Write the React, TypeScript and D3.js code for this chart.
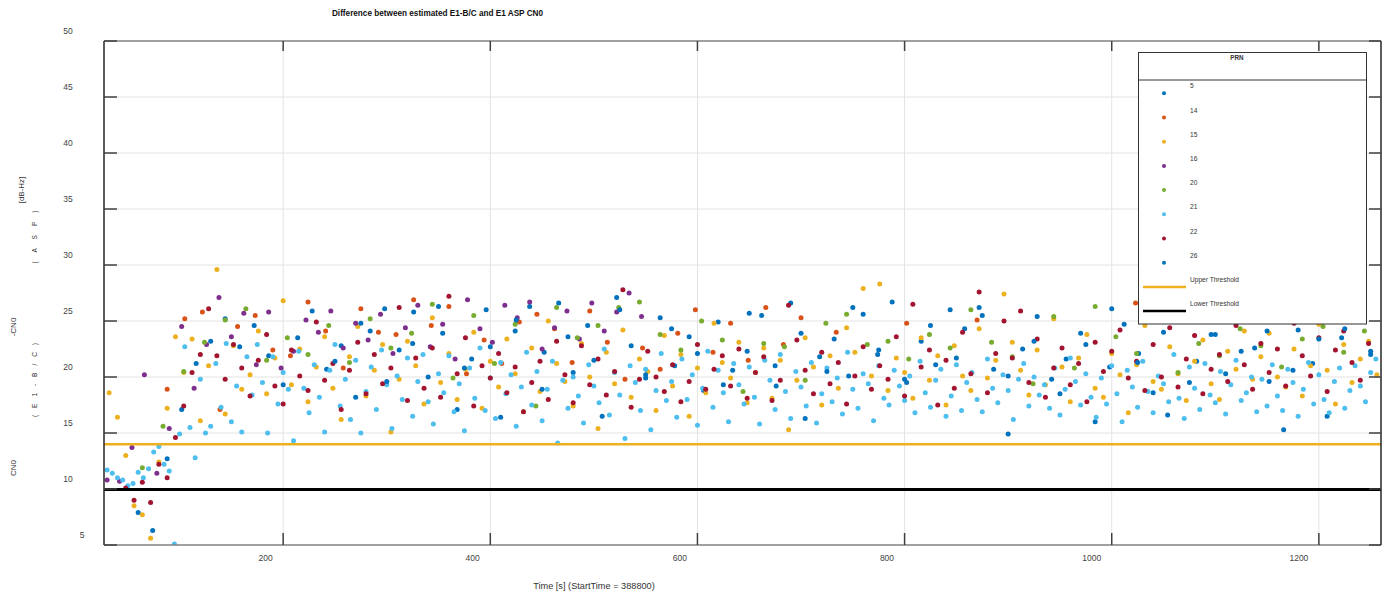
import React, { useEffect, useRef } from 'react'
import * as d3 from 'd3'

const WIDTH = 1385
const HEIGHT = 601
const FONT = "'Liberation Sans', Arial, sans-serif"

const X_TICKS = [200, 400, 600, 800, 1000, 1200]
const Y_TICKS = [5, 10, 15, 20, 25, 30, 35, 40, 45, 50]
const TIME_RANGE = [27, 1260]
const CN0_RANGE = [5, 50]

const UPPER_THRESHOLD = 14.0
const LOWER_THRESHOLD = 9.95

const PRN_LABELS = ['5', '14', '15', '16', '20', '21', '22', '26']
const PRN_COLORS = ['#0072BD', '#D95319', '#EDB120', '#7E2F8E', '#77AC30', '#4DBEEE', '#A2142F', '#0072BD']

// sample epochs: time = start + i * step, null = no measurement
const PRN_START = [60, 88, 32, 30, 64, 30, 48, 250]
const PRN_STEP = [14, 17, 8, 12, 20, 5, 8, 25]

const prn5 = [
  7.9, 6.3, 12.7, 17.1, 21.2, 23.2, 25.2, 22.7,
  24.6, 21.9, 19.3, 23.5, 25.9, 20.7, 22.8, 18.2, 24.1, 26.1, 22.4, 25.8, 20.0, 23.9, 17.1, 21.6,
  26.0, 16.4, 24.1, 26.3, 22.2, 26.6, 20.4, 24.6, 16.5, 27.1, 22.8, 19.9, 25.3, 21.0, 23.6, 18.8,
  24.9, 20.6, 22.3, 25.5, 19.2, 26.6, 16.3, 21.8, 23.4, 20.1, 25.6, 22.0, 26.7, 19.5, 23.2, 21.1,
  26.0, 24.3, 26.2, 20.7, 14.9, 22.5, 25.4, 19.8, 21.6, 23.9, 16.0, 20.9, 24.7, 22.1, 18.6, 16.6,
  25.1, 21.4, 23.8, 20.3, 26.4, 22.6, 19.6, 15.3, 24.2, 21.2, 16.5, 23.5, 26.9, 22.0,
]

const prn14 = [
  18.9, 25.2, 25.8, 17.1, 24.5, 25.5, 22.4, 21.9, 26.7, 24.1, 20.8, 26.1, 24.0, 23.8, 26.9, 24.6,
  26.3, 20.3, 23.3, 21.2, 24.9, 25.6, 24.3, 21.3, 25.9, 23.1, 19.8, 22.6, 20.7, 23.9, 26.0, 22.2,
  24.8, 21.5, 26.2, 22.9, 25.3, null, 24.0, null, null, null, 24.8, null, null, null, 25.1, null,
  null, null, null, null, null, null, null, 26.6,
]

const prn15 = [
  18.6, 16.4, 13.0, 8.5, 7.7, 5.6, 12.4, 17.2, 23.6, 20.4, 23.4, 16.1, 21.0, 29.6, 16.7,
  22.8, 18.9, 20.2, 24.1, 18.5, 21.7, 26.8, 19.3, 22.5, 17.8, 20.9, 23.6, 19.0, 16.2, 21.8,
  24.5, 18.3, 20.6, 22.9, 15.1, 19.8, 23.2, 21.0, 17.6, 25.3, 19.5, 22.1,
  18.0, 20.7, 24.0, 17.2, 21.4, 19.1, 23.4, 20.3, 16.9, 22.6, 18.7, 25.0, 21.2, 19.6, 17.4,
  23.0, 20.0, 15.4, 22.2, 19.4, 24.2, 18.2, 21.6, 20.5, 17.0, 23.7, 19.2,
  22.0, 16.5, 20.8, 18.6, 24.8, 21.3, 19.9, 23.1, 17.7, 20.4, 22.6, 18.1, 21.5, 15.3, 19.7,
  23.5, 20.9, 17.5, 21.9, 19.0, 24.4, 22.2, 27.9, 20.1, 28.3, 18.8, 21.7,
  20.4, 18.1, 23.5, 19.7, 21.9, 17.5, 22.8, 20.1, 18.8, 24.3, 19.9, 21.5, 27.4, 23.1, 20.6,
  18.4, 22.4, 19.3, 25.2, 20.9, 17.8, 21.7, 23.8, 19.0, 18.2, 22.1, 20.2,
  16.8, 21.1, 24.6, 19.6, 18.9, 22.7, 20.3, 17.9, 21.4, 23.3, 19.4, 18.0, 22.3, 20.7, 24.1,
  19.8, 21.8, 23.9, 20.0, 19.1, 22.5, 18.3, 21.0, 24.7, 20.6, 17.6, 22.9,
  19.5, 21.6, 23.2, 20.2,
]

const prn16 = [
  10.8, 10.7, 13.7, 20.2, 11.4, 15.4, 24.5, 19.0, 22.9, 27.1, 23.6, 25.7, 21.1, 25.8, 20.8,
  22.3, 25.1, 24.0, 25.9, 22.6, 24.8, 23.3, 25.6, 22.1, 24.4, 26.4, 22.7, 24.7, 21.6, 26.9,
  24.3, 23.1, 26.4, 25.3, 26.7, 22.5, 24.4, 25.9, 23.4, 26.6, 24.1, 25.8, 27.5, 25.4,
]

const prn20 = [
  11.9, 15.6, 20.5, 23.1, 25.1, 26.1, 21.5, 23.5, 22.0, 24.6, 21.3, 25.2, 22.6, 23.9, 26.5,
  19.9, 25.5, 21.2, 24.7, 17.4, 26.2, 23.5, 24.6, 26.2, 26.7, 23.8, 22.4, 25.0, 23.3, 18.7,
  23.0, 22.7, 19.7, 24.8, 25.6, 22.9, 23.2, 21.6, 23.8, 22.6, 26.0, 23.1, 21.8, 19.4, 25.4,
  20.8, 26.3, 23.6, 22.1, 25.0, 20.4, 23.0, 21.9, 24.3, 22.8, 20.9, 23.4, 24.5, 22.2, 24.1,
]

const prn21 = [
  11.7, 11.4, 11.0, 10.8, 10.3, 10.5, 11.5, 11.0, 11.8, 13.3, 13.8, 12.2, 11.6, 5.1, 14.9,
  22.7, 15.5, 12.8, 19.8, 15.0, 15.6, 21.2, 17.3, 23.0, 16.0, 19.2, 15.1, 21.8, 18.4, 22.9,
  19.5, 15.0, 21.8, 17.6, 20.4, 18.9, 14.3, 22.3, 19.0, 16.8, 21.1, 18.2, 15.1, 20.6, 22.9,
  17.4, 19.8, 16.2, 21.5, 15.0, 18.7, 20.9, 17.1, 22.4, 19.3, 15.4, 20.1,
  18.0, 21.7, 16.5, 19.6, 22.0, 17.8, 15.8, 20.3, 18.6, 21.9, 16.9, 19.4, 15.2, 20.8, 18.1,
  22.6, 17.0, 19.9, 16.3, 21.3, 18.5, 20.2, 15.6, 19.1, 22.2, 17.5, 20.5,
  16.1, 18.9, 21.4, 14.1, 19.7, 17.2, 20.0, 18.3, 15.9, 21.1, 19.2, 17.7, 22.5, 16.6, 20.4,
  18.4, 14.5, 21.0, 19.5, 17.0, 20.7, 15.3, 18.8, 22.1, 17.9, 19.6, 16.4,
  21.6, 18.0, 20.2, 15.7, 19.0, 22.3, 17.3, 20.6, 18.6, 16.0, 21.2, 19.3, 17.6, 20.9, 18.2,
  15.8, 21.5, 19.7, 17.1, 22.0, 18.7, 16.3, 20.5, 19.1, 17.4, 21.3, 15.9,
  18.5, 20.8, 17.8, 19.9, 16.7, 22.2, 18.9, 17.2, 20.3, 19.4, 16.1, 21.0, 18.1, 17.5, 20.6,
  19.2, 17.9, 20.1, 16.8, 21.4, 18.6, 17.3, 19.7, 20.7, 16.5, 18.3, 21.1,
  17.0, 19.5, 20.4, 18.0, 16.9, 21.6, 19.0, 17.7, 20.2, 18.8, 16.2, 19.8, 21.2, 17.4, 20.0,
  18.4, 19.3, 17.2, 20.8, 16.6, 18.9, 21.7, 19.6, 17.5, 20.3, 18.2, 16.4,
  19.9, 17.6, 21.0, 18.5, 16.0, 20.6, 19.1, 17.3, 21.4, 18.7, 16.8, 20.1, 19.4, 17.8, 22.0,
  18.1, 16.3, 20.9, 19.0, 17.1, 21.2, 18.4, 17.7, 20.5, 16.7, 19.3, 21.5,
  17.9, 18.6, 20.0, 16.9, 19.8, 17.4, 21.1, 18.3, 17.0, 20.7, 19.5, 16.5, 18.9, 21.3, 17.6,
  20.2, 18.0, 16.8, 19.6, 20.8, 17.2, 18.8, 21.0, 19.2, 17.8, 20.4, 21.6,
]

const prn22 = [
  10.1, 9.0, 10.6, 8.8, 12.2, 11.0, 14.6, 17.4, 20.4, 22.0, 26.1, 21.9, 19.8,
  22.9, 20.8, 18.3, 21.5, 23.8, 19.2, 17.6, 22.4, 20.1, 18.8, 24.9, 19.7, 21.2, 17.1, 20.6,
  23.1, 18.5, 22.0, 19.4, 20.8, 26.2, 17.9, 21.7, 19.0, 22.6, 18.2, 27.2,
  20.3, 23.5, 17.4, 21.0, 19.9, 22.1, 18.6, 20.9, 16.9, 19.5, 21.4, 18.0, 23.2, 20.2, 17.7,
  22.8, 19.3, 21.6, 18.4, 20.5, 27.8, 17.3, 19.8, 22.3, 20.0, 18.7, 21.1,
  17.8, 19.6, 22.9, 18.9, 20.7, 21.9, 19.2, 22.5, 18.1, 20.4, 21.8, 17.9, 19.7, 26.4, 23.3,
  20.6, 18.5, 22.2, 19.4, 21.3, 17.6, 20.1, 22.7, 18.9, 21.0, 19.8, 23.6,
  18.3, 26.5, 20.9, 22.4, 17.5, 21.5, 19.0, 24.0, 20.3, 27.6, 18.6, 22.1, 25.0, 21.7, 25.9,
  19.5, 23.4, 18.2, 20.8, 22.6, 19.3, 21.2, 17.8, 23.1, 20.5, 22.3, 24.2,
  19.9, 21.4, 18.8, 22.9, 20.0, 24.4, 19.1, 21.6, 23.7, 18.5, 20.7, 22.0, 19.6, 24.6, 21.1,
  18.9, 23.0, 20.4, 22.5, 19.2, 24.8, 21.9, 20.1, 23.5, 18.7, 22.4, 24.1,
  21.3, 19.7, 23.0,
]

const prn26 = [
  21.4, 24.8, 19.6, 23.0, 26.3, 20.8, 22.7, 25.1, 18.9, 23.6, 21.5, 26.0, 20.2, 24.3, 22.1,
  19.3, 25.7, 21.0, 23.9, 20.5, 26.2, 22.4, 19.8, 24.6, 21.7, 25.5, 20.1, 23.2, 18.5, 22.9,
  26.1, 21.3, 24.0, 19.5, 23.8, 22.3, 24.1, 20.6, 23.4, 24.3, 22.3,
]

const PRN_VALUES = [prn5, prn14, prn15, prn16, prn20, prn21, prn22, prn26]

export default function App() {
  const svgRef = useRef<SVGSVGElement>(null)

  useEffect(() => {
    const svg = d3.select(svgRef.current)
    svg.selectAll('*').remove()

    const x = d3.scaleLinear().domain(TIME_RANGE).range([104, 1381])
    const y = d3.scaleLinear().domain(CN0_RANGE).range([545, 41])
    const [x0, x1] = x.range()
    const [y0, y1] = y.range()

    svg.append('rect').attr('width', WIDTH).attr('height', HEIGHT).attr('fill', '#fff')

    svg.append('defs').append('clipPath').attr('id', 'plot-clip')
      .append('rect').attr('x', x0).attr('y', y1).attr('width', x1 - x0).attr('height', y0 - y1)

    // grid
    const grid = svg.append('g').attr('stroke', '#e3e3e3').attr('stroke-width', 1)
    grid.selectAll('.vg').data(X_TICKS).enter().append('line')
      .attr('x1', d => x(d)).attr('x2', d => x(d)).attr('y1', y1).attr('y2', y0)
    grid.selectAll('.hg').data(Y_TICKS.slice(1, -1)).enter().append('line')
      .attr('y1', d => y(d)).attr('y2', d => y(d)).attr('x1', x0).attr('x2', x1)

    // scatter
    const dots = svg.append('g').attr('clip-path', 'url(#plot-clip)')
    PRN_LABELS.forEach((prn, k) => {
      const pts = PRN_VALUES[k]
        .map((v, i) => ({ t: PRN_START[k] + i * PRN_STEP[k], v }))
        .filter(p => p.v !== null)
      dots.append('g').attr('fill', PRN_COLORS[k])
        .selectAll('circle').data(pts).enter().append('circle')
        .attr('cx', d => x(d.t)).attr('cy', d => y(d.v as number)).attr('r', 2.5)
    })

    // thresholds
    svg.append('line').attr('x1', x0).attr('x2', x1)
      .attr('y1', y(UPPER_THRESHOLD)).attr('y2', y(UPPER_THRESHOLD))
      .attr('stroke', '#EDB120').attr('stroke-width', 2.5)
    svg.append('line').attr('x1', x0).attr('x2', x1)
      .attr('y1', y(LOWER_THRESHOLD)).attr('y2', y(LOWER_THRESHOLD))
      .attr('stroke', '#000').attr('stroke-width', 3)

    // box
    const box = svg.append('g').attr('stroke-width', 1.5)
    box.append('line').attr('x1', x0).attr('x2', x1).attr('y1', y1).attr('y2', y1).attr('stroke', '#808080')
    box.append('line').attr('x1', x0).attr('x2', x1).attr('y1', y0).attr('y2', y0).attr('stroke', '#808080')
    box.append('line').attr('x1', x0).attr('x2', x0).attr('y1', y1).attr('y2', y0).attr('stroke', '#262626')
    box.append('line').attr('x1', x1).attr('x2', x1).attr('y1', y1).attr('y2', y0).attr('stroke', '#262626')

    // ticks
    const ticks = svg.append('g').attr('stroke', '#404040').attr('stroke-width', 1.5)
    Y_TICKS.forEach(v => {
      ticks.append('line').attr('x1', x0).attr('x2', x0 + 13).attr('y1', y(v)).attr('y2', y(v))
      ticks.append('line').attr('x1', x1 - 12).attr('x2', x1).attr('y1', y(v)).attr('y2', y(v))
    })
    X_TICKS.forEach(v => {
      ticks.append('line').attr('x1', x(v)).attr('x2', x(v)).attr('y1', y1).attr('y2', y1 + 10)
      ticks.append('line').attr('x1', x(v)).attr('x2', x(v)).attr('y1', y0 - 12).attr('y2', y0)
    })

    // tick labels
    const labels = svg.append('g').attr('font-family', FONT).attr('font-size', 8.5).attr('fill', '#444')
    labels.selectAll('.yl').data(Y_TICKS).enter().append('text')
      .attr('x', d => String(d).length === 1 ? 82 : 68)
      .attr('y', d => y(d) - 10)
      .attr('dy', '0.35em')
      .attr('text-anchor', 'middle')
      .text(d => String(d))
    labels.selectAll('.xl').data(X_TICKS).enter().append('text')
      .attr('x', d => x(d) - 10.5)
      .attr('y', 561)
      .attr('text-anchor', 'end')
      .text(d => String(d))

    // title and axis labels
    svg.append('text').attr('x', 437.5).attr('y', 15.5).attr('text-anchor', 'middle')
      .attr('font-family', FONT).attr('font-size', 8.2).attr('font-weight', 'bold').attr('fill', '#111')
      .text('Difference between estimated E1-B/C and E1 ASP CN0')
    svg.append('text').attr('x', 594).attr('y', 589).attr('text-anchor', 'middle')
      .attr('font-family', FONT).attr('font-size', 9.2).attr('fill', '#333')
      .text('Time [s] (StartTime = 388800)')

    const yLabelParts = [
      { text: '[dB-Hz]', cx: 21, cy: 190, len: 0 },
      { text: '( A S P )', cx: 35, cy: 237, len: 53 },
      { text: '-CN0', cx: 13, cy: 327, len: 0 },
      { text: '( E 1 - B / C )', cx: 35, cy: 380, len: 74 },
      { text: 'CN0', cx: 13, cy: 468, len: 0 },
    ]
    yLabelParts.forEach(p => {
      const t = svg.append('text')
        .attr('transform', `translate(${p.cx},${p.cy}) rotate(-90)`)
        .attr('text-anchor', 'middle').attr('dy', '0.35em')
        .attr('font-family', FONT).attr('font-size', p.len ? 6.5 : 8).attr('fill', '#333')
        .text(p.text)
      if (p.len) t.attr('textLength', p.len).attr('lengthAdjust', 'spacing')
    })

    // legend
    const lg = svg.append('g').attr('font-family', FONT).attr('fill', '#333')
    lg.append('rect').attr('x', 1138.5).attr('y', 52.5).attr('width', 228).attr('height', 271.5)
      .attr('fill', '#fff').attr('stroke', '#333').attr('stroke-width', 1)
    lg.append('line').attr('x1', 1138.5).attr('x2', 1366.5).attr('y1', 80).attr('y2', 80)
      .attr('stroke', '#333').attr('stroke-width', 1)
    lg.append('text').attr('x', 1237).attr('y', 60).attr('text-anchor', 'middle')
      .attr('font-size', 6.3).attr('font-weight', 'bold').text('PRN')
    const rowY = (i: number) => 93.3 + i * 24.2
    PRN_LABELS.forEach((prn, k) => {
      lg.append('circle').attr('cx', 1164).attr('cy', rowY(k)).attr('r', 2).attr('fill', PRN_COLORS[k])
      lg.append('text').attr('x', 1190).attr('y', rowY(k) - 7.3).attr('dy', '0.35em')
        .attr('font-size', 6.6).text(prn)
    })
    const thr = [
      { label: 'Upper Threshold', color: '#EDB120' },
      { label: 'Lower Threshold', color: '#000' },
    ]
    thr.forEach((d, i) => {
      const ly = rowY(PRN_LABELS.length + i)
      lg.append('line').attr('x1', 1143).attr('x2', 1186).attr('y1', ly).attr('y2', ly)
        .attr('stroke', d.color).attr('stroke-width', 2.5)
      lg.append('text').attr('x', 1190).attr('y', ly - 7.3).attr('dy', '0.35em')
        .attr('font-size', 6.6).text(d.label)
    })
  }, [])

  return (
    <svg
      ref={svgRef}
      width={WIDTH}
      height={HEIGHT}
      style={{ position: 'absolute', left: 0, top: 0, display: 'block' }}
    />
  )
}
